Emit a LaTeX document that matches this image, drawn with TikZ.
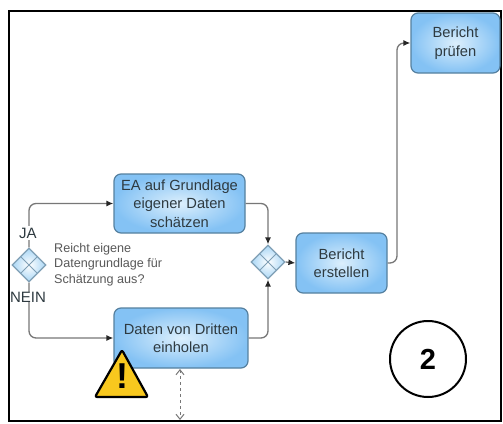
\documentclass[tikz,border=0pt]{standalone}
\usepackage{fontspec}
\setmainfont{Liberation Sans}
\usetikzlibrary{shapes.geometric,arrows.meta,calc}
\definecolor{boxedge}{HTML}{55809F}
\definecolor{boxout}{HTML}{84C2F4}
\definecolor{boxin}{HTML}{DCEFFC}
\definecolor{gwout}{HTML}{A9D6F5}
\definecolor{gwedge}{HTML}{7F9FB5}
\definecolor{linegray}{HTML}{777777}
\definecolor{txt}{HTML}{2E3A40}
\definecolor{warn}{HTML}{F8C81E}
\tikzset{
  x=1pt,y=-1pt,
  taskbox/.style={draw=boxedge,line width=1.2pt,rounded corners=7pt,inner color=boxin,outer color=boxout,align=center,text=txt,inner sep=0pt,font=\fontsize{14.7}{18.5}\selectfont},
  gatebox/.style={diamond,aspect=1,draw=gwedge,line width=1.2pt,inner color=white,outer color=gwout,minimum size=34pt,inner sep=0pt},
  flow/.style={draw=linegray,line width=1.3pt,rounded corners=7pt,-{Latex[length=7pt,width=6pt,color=black!85]}},
  lab/.style={text=txt,inner sep=1.5pt,fill=white,font=\fontsize{15}{17}\selectfont},
  note/.style={text=black!65,inner sep=0pt,align=left,font=\fontsize{12.6}{15.5}\selectfont},
}
\begin{document}
\begin{tikzpicture}
\useasboundingbox (0,0) rectangle (503,423);
\fill[white] (0,0) rectangle (503,423);
\draw[black,line width=2pt] (9,11) rectangle (501,421);

\node[taskbox,minimum width=131pt,minimum height=59pt] (ea) at (179.5,203.5) {EA auf Grundlage\\eigener Daten\\schätzen};
\node[taskbox,minimum width=134pt,minimum height=60pt] (dd) at (181,338) {Daten von Dritten\\einholen};
\node[taskbox,minimum width=91pt,minimum height=60pt] (be) at (341.5,263) {Bericht\\erstellen};
\node[taskbox,minimum width=89pt,minimum height=60pt] (bp) at (455.5,43) {Bericht\\prüfen};
\node[gatebox] (g1) at (29,265) {};
\node[gatebox] (g2) at (268,262) {};
\foreach \g in {g1,g2}{
  \draw[gwedge,line width=.9pt] ($(\g)+(-8,-8)$) -- ($(\g)+(8,8)$) ($(\g)+(8,-8)$) -- ($(\g)+(-8,8)$);
}

\draw[flow] (g1.north) -- (g1.north |- ea.west) -- (ea.west);
\draw[flow] (g1.south) -- (g1.south |- dd.west) -- (dd.west);
\draw[flow] (ea.east) -- (ea.east -| g2.north) -- (g2.north);
\draw[flow] (dd.east) -- (dd.east -| g2.south) -- (g2.south);
\draw[flow,rounded corners=0pt] (g2.east) -- (be.west);
\coordinate (tw) at (397,43);
\draw[flow] (be.east) -- (be.east -| tw) -- (tw) -- (bp.west);

\node[lab] (ja) at (28,233) {JA};
\node[lab,inner sep=0pt] (ne) at (28,297) {NEIN};
\node[note,anchor=north west] (nt) at (54,243) {Reicht eigene\\Datengrundlage für\\Schätzung aus?};

\coordinate (dtop) at (180,369);
\coordinate (dbot) at (180,420);
\draw[linegray,line width=1pt,dashed,{Straight Barb[length=5pt,width=8pt]}-{Straight Barb[length=5pt,width=8pt]}] (dtop) -- (dbot);

\draw[black,line width=2.2pt,fill=warn,line join=round,rounded corners=2pt] (122,350) -- (148,397) -- (95,397) -- cycle;
\node[inner sep=0pt,font=\fontsize{36}{36}\bfseries\selectfont,text=black] (ex) at (122,376) {!};

\node[circle,draw=black,line width=2pt,minimum size=76pt,inner sep=0pt,font=\fontsize{29}{29}\bfseries\selectfont] (num) at (428,359) {2};
\end{tikzpicture}
\end{document}
